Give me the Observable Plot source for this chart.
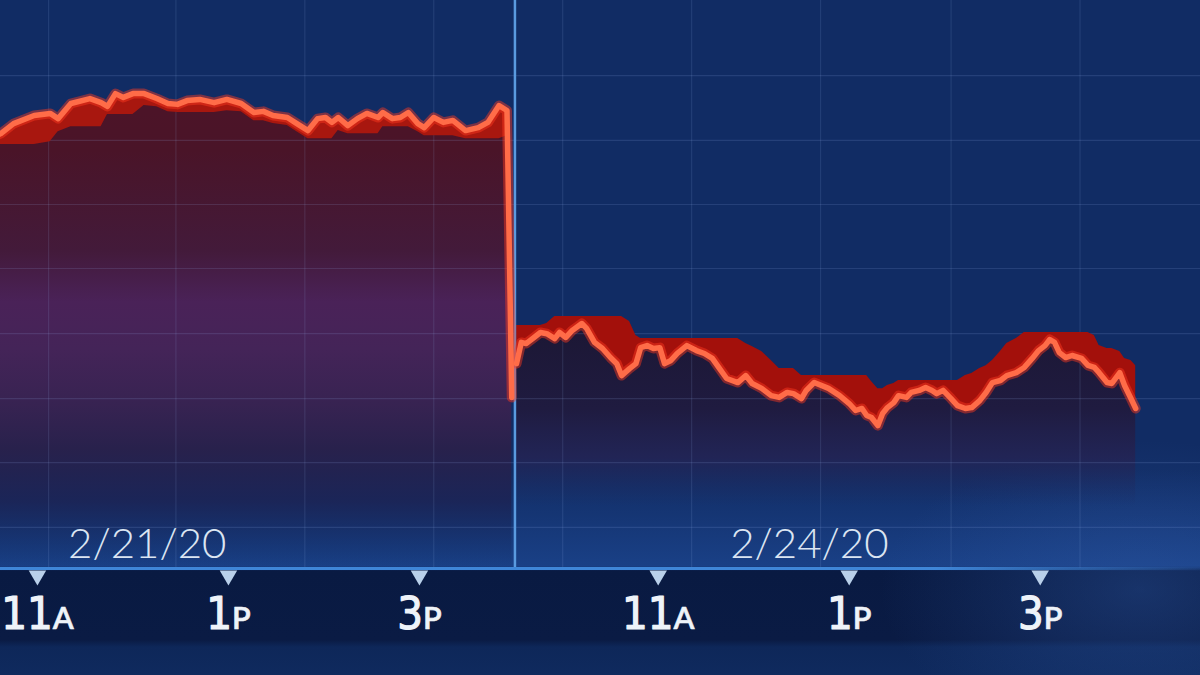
<!DOCTYPE html>
<html>
<head>
<meta charset="utf-8">
<script src="https://cdn.jsdelivr.net/npm/d3@7"></script>
<script src="https://cdn.jsdelivr.net/npm/@observablehq/plot@0.6"></script>
<style>
  body { margin: 0; background: #112c64; }
  #chart {
    width: 1200px;
    height: 675px;
    position: relative;
    overflow: hidden;
    background:
      radial-gradient(ellipse 260px 150px at 1140px 590px, rgba(48, 92, 170, 0.38), rgba(48, 92, 170, 0)),
      linear-gradient(to bottom, rgba(30, 80, 160, 0) 470px, rgba(34, 84, 168, 0.5) 566px, #091a42 571px, #0a1b44 640px, #0e2759 647px, #0f2a5e 675px),
      #112c64;
    font-family: Lato, "Open Sans", "Noto Sans", sans-serif;
  }
  #chart svg { display: block; }
</style>
</head>
<body>
<div id="chart"></div>
<script>
// Dow Jones intraday, Fri 2/21/20 and Mon 2/24/20 (times are New York clock)
const dates = ["2/21/20", "2/24/20"]
const dateLabelAt = ["12:09", "12:35"]

const day1Times = ["10:33", "10:37", "10:45", "10:58", "11:08", "11:13", "11:21", "11:33", "11:40", "11:44",
  "11:49", "11:54", "12:00", "12:07", "12:15", "12:22", "12:28", "12:34", "12:42", "12:51",
  "12:59", "13:08", "13:16", "13:22", "13:28", "13:37", "13:43", "13:50", "13:56", "14:01",
  "14:05", "14:09", "14:15", "14:21", "14:27", "14:34", "14:37", "14:43", "14:48", "14:53",
  "14:59", "15:03", "15:09", "15:15", "15:21", "15:29", "15:37", "15:43", "15:50", "15:55"]
const day1Values = [28896, 28906, 28940, 28968, 28975, 28957, 29009, 29026, 29012, 28999,
  29043, 29030, 29043, 29043, 29026, 29009, 29006, 29019, 29023, 29012,
  29023, 29009, 28978, 28982, 28968, 28961, 28940, 28916, 28957, 28961,
  28944, 28961, 28933, 28957, 28975, 28961, 28978, 28957, 28961, 28978,
  28940, 28926, 28961, 28944, 28951, 28916, 28926, 28944, 29002, 28985]
// the plunge drawn at the end of Friday
const dropTime = "15:58"
const dropValue = 27999

const day2Times = ["9:31", "9:34", "9:37", "9:42", "9:46", "9:50", "9:55", "9:58", "10:02", "10:06",
  "10:12", "10:15", "10:20", "10:25", "10:30", "10:34", "10:37", "10:42", "10:46", "10:49",
  "10:53", "10:57", "11:01", "11:04", "11:08", "11:12", "11:18", "11:24", "11:29", "11:34",
  "11:38", "11:43", "11:50", "11:55", "11:59", "12:05", "12:11", "12:16", "12:21", "12:25",
  "12:30", "12:33", "12:38", "12:47", "12:54", "13:00", "13:04", "13:08", "13:11", "13:14",
  "13:18", "13:21", "13:24", "13:28", "13:31", "13:36", "13:39", "13:44", "13:48", "13:52",
  "13:55", "13:59", "14:04", "14:08", "14:13", "14:17", "14:22", "14:26", "14:30", "14:35",
  "14:39", "14:45", "14:50", "14:55", "14:59", "15:03", "15:06", "15:09", "15:12", "15:16",
  "15:20", "15:26", "15:30", "15:34", "15:37", "15:42", "15:45", "15:50", "15:53", "15:57", "16:00"]
const day2Values = [28115, 28188, 28184, 28205, 28222, 28218, 28201, 28222, 28205, 28229,
  28253, 28236, 28188, 28167, 28136, 28115, 28074, 28098, 28115, 28170,
  28177, 28167, 28170, 28115, 28126, 28150, 28177, 28160, 28150, 28133,
  28102, 28064, 28050, 28074, 28047, 28030, 28005, 27999, 28016, 28012,
  27995, 28023, 28050, 28030, 28005, 27978, 27954, 27961, 27937, 27930,
  27902, 27944, 27964, 27981, 28005, 27999, 28016, 28023, 28033, 28023,
  28012, 28023, 27995, 27971, 27961, 27964, 27988, 28016, 28050, 28057,
  28074, 28084, 28102, 28133, 28160, 28177, 28198, 28188, 28153, 28136,
  28143, 28133, 28109, 28102, 28084, 28050, 28047, 28084, 28040, 27995, 27961]

const tickTimes = ["11:00", "13:00", "15:00"]
const tickLabels = ["11A", "1P", "3P"]

// decorative grid of the broadcast graphic
const gridTimes1 = ["11:07", "12:27", "13:48", "15:09"]
const gridTimes2 = ["10:00", "11:21", "12:42", "14:04", "15:25"]
const gridValues = [29105, 28882, 28662, 28442, 28218, 27995, 27775, 27552]

// minutes after the 9:30 open; Monday follows Friday's close directly
const session = 390
const toMin = s => {
  const [h, m] = s.split(":").map(Number)
  return h * 60 + m - 570
}

const yDomain = [27411, 29363]

const day1 = day1Times.map((t, i) => ({day: dates[0], t: toMin(t), v: day1Values[i]}))
const day2 = day2Times.map((t, i) => ({day: dates[1], t: session + toMin(t), v: day2Values[i]}))

// the red "ribbon" edge: trails under the line on Friday, rides above it on Monday
day1.forEach((d, i) => {
  d.s = d3.min(day1.slice(Math.max(0, i - 3), i + 1), r => r.v) - 28
})
day2.forEach((d, i) => {
  d.s = d3.max(day2.slice(Math.max(0, i - 6), i + 5), r => r.v) + 24
})

const day1Line = [...day1, {day: dates[0], t: toMin(dropTime), v: dropValue}]

const ticks = []
for (let k = 0; k < 2; k++) {
  tickTimes.forEach((t, i) => ticks.push({t: k * session + toMin(t), label: tickLabels[i]}))
}
const dateRows = dates.map((d, i) => ({t: i * session + toMin(dateLabelAt[i]), label: d}))
const gridX = [...gridTimes1.map(toMin), ...gridTimes2.map(t => session + toMin(t))]

const chart = Plot.plot({
  width: 1200,
  height: 675,
  marginTop: 0,
  marginLeft: 0,
  marginRight: 0,
  marginBottom: 107,
  x: {domain: [66.8, 820.7], axis: null},
  y: {domain: yDomain, axis: null},
  style: {background: "transparent", overflow: "visible", fontFamily: "Lato, 'Open Sans', sans-serif"},
  marks: [
    // bodies under each day's line
    Plot.areaY(day1Line, {x: "t", y1: yDomain[0], y2: "v", fill: "url(#fillDay1)", clip: true}),
    Plot.areaY(day2, {x: "t", y1: yDomain[0], y2: "v", fill: "url(#fillDay2)", clip: true}),
    // grid
    Plot.ruleY(gridValues, {stroke: "#9ab8f0", strokeOpacity: 0.15, strokeWidth: 1.2}),
    Plot.ruleX(gridX, {stroke: "#9ab8f0", strokeOpacity: 0.13, strokeWidth: 1.2}),
    // ribbon depth
    Plot.area(day1, {x1: "t", y1: "v", y2: "s", fill: "#a8170f", clip: true}),
    Plot.area(day2, {x1: "t", y1: "v", y2: "s", fill: "#a3100b", clip: true}),
    // divider between the two sessions
    Plot.ruleX([session], {stroke: "#5a9be0", strokeWidth: 2.5}),
    // line with glow
    Plot.line([...day1Line, ...day2], {x: "t", y: "v", z: "day", stroke: "#ff3a1e", strokeOpacity: 0.45, strokeWidth: 10, clip: true}),
    Plot.line([...day1Line, ...day2], {x: "t", y: "v", z: "day", stroke: "#ff6c48", strokeWidth: 5.5, strokeLinejoin: "round", clip: true}),
    // time axis
    Plot.ruleY([yDomain[0]], {stroke: "url(#axisLine)", strokeWidth: 3}),
    Plot.dot(ticks, {x: "t", frameAnchor: "bottom", dy: 7, symbol: "triangle", r: 6.5, rotate: 180, fill: "#b9d0ea", stroke: "none"}),
    Plot.text(ticks, {x: "t", text: "label", frameAnchor: "bottom", lineAnchor: "middle", dy: 46, fontSize: 45,
      fontFamily: "'DejaVu Sans Condensed', 'DejaVu Sans', sans-serif", fill: "#eef3f9", stroke: "#eef3f9", strokeWidth: 1.2}),
    Plot.text(dateRows, {x: "t", text: "label", frameAnchor: "bottom", lineAnchor: "middle", dy: -24, fontSize: 42, fontWeight: 300, fill: "#dbe5f2"})
  ]
})

const defs = d3.select(chart).insert("defs", ":first-child")
function gradient(id, stops, attrs) {
  const g = defs.append("linearGradient").attr("id", id)
  Object.entries(attrs).forEach(([k, v]) => g.attr(k, v))
  stops.forEach(([o, c, a]) => g.append("stop").attr("offset", o).attr("stop-color", c).attr("stop-opacity", a ?? 1))
}
gradient("fillDay1", [
  [0, "#4d1428"], [0.12, "#4a1428"], [0.33, "#431a3a"], [0.44, "#4a2258"], [0.54, "#442458"],
  [0.65, "#382352"], [0.75, "#28214c"], [0.86, "#1c2354", 0.85], [0.95, "#15295f", 0.3], [1, "#112c64", 0]
], {x1: 0, y1: 0, x2: 0, y2: 1})
gradient("fillDay2", [
  [0, "#1c1734"], [0.35, "#1f1b40"], [0.55, "#242353", 0.85], [0.75, "#1d2d64", 0]
], {x1: 0, y1: 0, x2: 0, y2: 1})
gradient("axisLine", [
  [0, "#3f86d8"], [0.78, "#3f86d8"], [1, "#3f86d8", 0.05]
], {gradientUnits: "userSpaceOnUse", x1: 0, y1: 0, x2: 1200, y2: 0})

// small A / P after the hour
const tickSet = new Set(tickLabels)
d3.select(chart).selectAll("text").filter(function () { return tickSet.has(this.textContent) }).each(function () {
  const s = this.textContent
  const t = d3.select(this).text(null)
  t.append("tspan").text(s.slice(0, -1))
  t.append("tspan").attr("font-size", "0.68em").attr("font-family", "Lato, sans-serif").attr("font-weight", 600)
    .attr("stroke-width", 0.6).text(s.slice(-1))
})

d3.select("#chart").append(() => chart)
</script>
</body>
</html>
